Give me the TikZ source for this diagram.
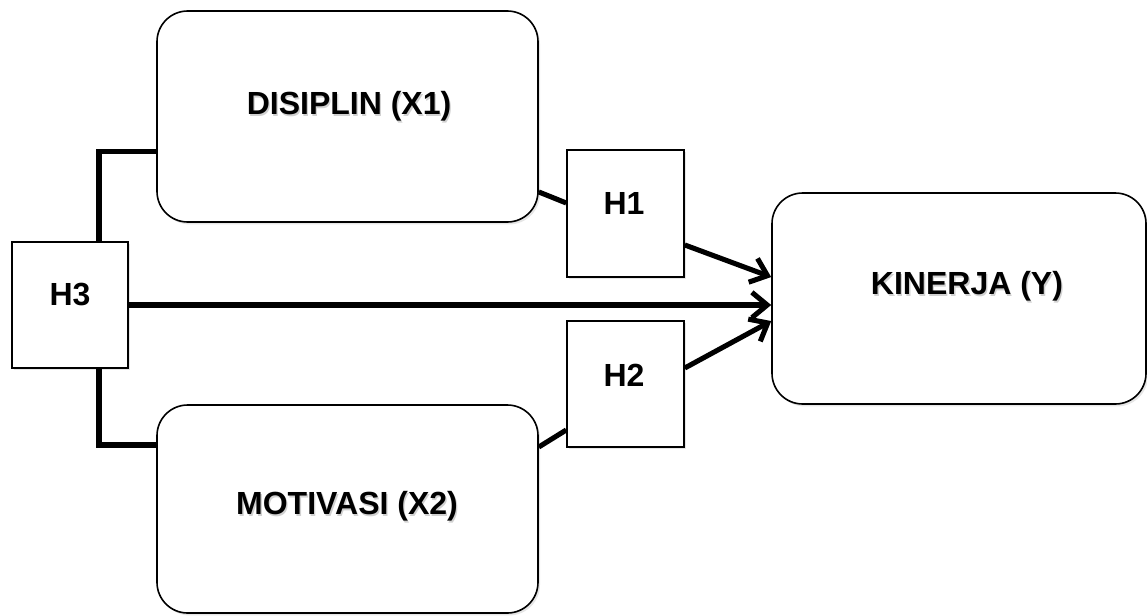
\documentclass[tikz,border=0pt]{standalone}
\usepackage{fontspec}
\setmainfont{Liberation Sans}
\usetikzlibrary{arrows.meta,shadows,calc}
\newcommand{\shtext}[1]{\leavevmode\rlap{\kern1.0pt\raisebox{-1.4pt}{\textcolor{black!18}{#1}}}#1}
\tikzset{
  rbox/.style={draw=black, line width=1.2pt, fill=white, rounded corners=23pt,
    drop shadow={shadow xshift=1.5pt, shadow yshift=-1.8pt, opacity=0.2}},
  hbox/.style={draw=black, line width=1.2pt, fill=white,
    drop shadow={shadow xshift=1.5pt, shadow yshift=-1.8pt, opacity=0.2}},
  lbl/.style={font=\fontsize{24}{28}\selectfont\bfseries, inner sep=0pt},
  conn/.style={line width=3.8pt},
  arr/.style={conn, -{Straight Barb[length=11.5pt, width=19pt, line width=3.8pt]}}
}
\begin{document}
\begin{tikzpicture}[x=0.75pt, y=-0.75pt]
\useasboundingbox (0,0) rectangle (1147,615);
% boxes
\node[rbox, minimum width=285.75pt, minimum height=158.25pt] (dis) at (347.5,116.5) {};
\node[rbox, minimum width=285.75pt, minimum height=156pt] (mot) at (347.5,509) {};
\node[rbox, minimum width=280.5pt, minimum height=158.25pt] (kin) at (959,298.5) {};
\node[hbox, minimum width=87.75pt, minimum height=95.25pt] (h1) at (625.5,213.5) {};
\node[hbox, minimum width=87.75pt, minimum height=94.5pt] (h2) at (625.5,384) {};
\node[hbox, minimum width=87pt, minimum height=94.5pt] (h3) at (70,305) {};
% labels
\node[lbl] (tdis) at (349,107) {\shtext{DISIPLIN (X1)}};
\node[lbl] (tmot) at (347,507) {\shtext{MOTIVASI (X2)}};
\node[lbl] (tkin) at (967,287) {\shtext{KINERJA (Y)}};
\node[lbl] (th1) at (624,203) {H1};
\node[lbl] (th2) at (624,375) {H2};
\node[lbl] (th3) at (70,295) {H3};
% connectors
\draw[conn] ([xshift=21.75pt]h3.north) |- ([yshift=-25.9pt]dis.west);
\draw[conn] ([xshift=21.75pt]h3.south) |- ([yshift=48pt]mot.west);
\draw[arr] (h3.east) -- (h3.east -| kin.west);
\draw[conn] ([yshift=-56.6pt]dis.east) -- ([yshift=7.9pt]h1.west);
\draw[arr] ([yshift=-23.6pt]h1.east) -- ([yshift=16.1pt]kin.west);
\draw[conn] ([yshift=46.5pt]mot.east) -- ([yshift=-34.5pt]h2.west);
\draw[arr] ([yshift=12pt]h2.east) -- ([yshift=-16.9pt]kin.west);
\end{tikzpicture}
\end{document}
